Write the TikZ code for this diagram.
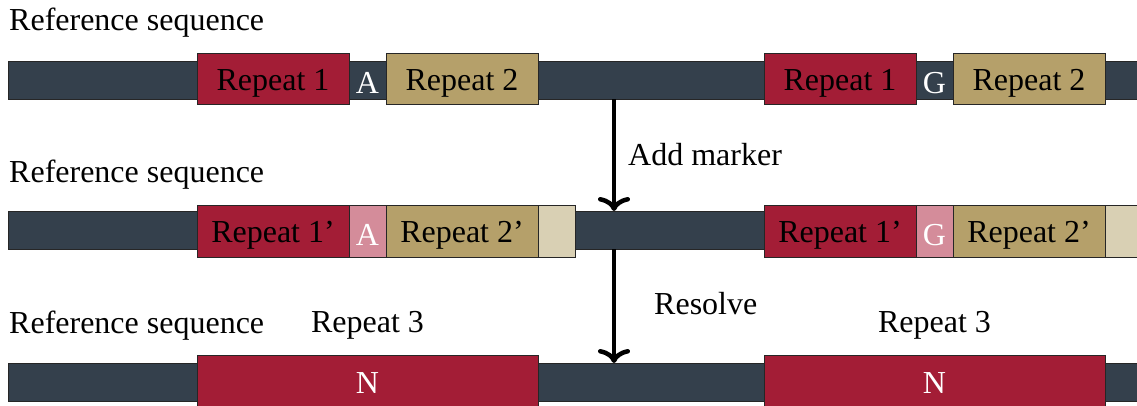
\documentclass[tikz,border=0pt]{standalone}
\usepackage{fontspec}
\setmainfont{Liberation Serif}
\usetikzlibrary{arrows.meta}
\definecolor{bardark}{RGB}{52,64,76}
\definecolor{repred}{RGB}{163,29,54}
\definecolor{reptan}{RGB}{181,160,106}
\definecolor{reppink}{RGB}{212,140,154}
\definecolor{repbeige}{RGB}{217,208,180}
\tikzset{
  bigfont/.style={font=\fontsize{32}{38}\selectfont},
  barshape/.style={fill=bardark,draw=black!85,line width=1pt},
  repbox/.style={bigfont,draw=black!85,line width=1pt,inner sep=0pt,minimum height=51pt,text=black,text height=25pt,text depth=2pt},
  redbox/.style={repbox,fill=repred},
  tanbox/.style={repbox,fill=reptan},
  pinkbox/.style={repbox,fill=reppink,text=white,text height=28pt,text depth=0pt},
  beigebox/.style={repbox,fill=repbeige},
  nbox/.style={repbox,fill=repred,text=white,text height=21pt,text depth=4pt},
  baselbl/.style={bigfont,text=white,inner sep=0pt},
  lbl/.style={bigfont,inner sep=0pt,anchor=west},
  flow/.style={line width=4.5pt,-{To[length=14pt,width=32pt]}}
}
\begin{document}
\begin{tikzpicture}[x=1pt,y=-1pt]
\useasboundingbox (0,0) rectangle (1137,405);
\clip (0,0) rectangle (1137,405);
% row 1
\draw[barshape] (8,61) rectangle (1150,99);
\node[redbox,minimum width=152pt] (r1a) at (273,78.5) {Repeat 1};
\node[baselbl] (ba) at (367.5,83) {A};
\node[tanbox,minimum width=152pt] (r2a) at (462,78.5) {Repeat 2};
\node[redbox,minimum width=152pt] (r1b) at (840,78.5) {Repeat 1};
\node[baselbl] (bg) at (934.5,83) {G};
\node[tanbox,minimum width=152pt] (r2b) at (1029,78.5) {Repeat 2};
\node[lbl] (ref1) at (9,22.5) {Reference sequence};
% row 2
\draw[barshape] (8,211) rectangle (1150,249);
\node[redbox,minimum width=152pt,minimum height=52pt] (m1a) at (273,231) {Repeat 1’};
\node[pinkbox,minimum width=37pt,minimum height=52pt] (pa) at (367.5,231) {A};
\node[tanbox,minimum width=152pt,minimum height=52pt] (m2a) at (462,231) {Repeat 2’};
\node[beigebox,minimum width=37pt,minimum height=52pt] (ea) at (556.5,231) {};
\node[redbox,minimum width=152pt,minimum height=52pt] (m1b) at (840,231) {Repeat 1’};
\node[pinkbox,minimum width=37pt,minimum height=52pt] (pg) at (934.5,231) {G};
\node[tanbox,minimum width=152pt,minimum height=52pt] (m2b) at (1029,231) {Repeat 2’};
\node[beigebox,minimum width=40pt,minimum height=52pt] (eb) at (1125,231) {};
\node[lbl] (ref2) at (9,174.5) {Reference sequence};
% row 3
\draw[barshape] (8,363) rectangle (1150,401);
\node[nbox,minimum width=341pt,minimum height=60pt] (n1) at (367.5,385) {N};
\node[nbox,minimum width=341pt,minimum height=60pt] (n2) at (934.5,385) {N};
\node[lbl] (ref3) at (9,325.5) {Reference sequence};
\node[bigfont,inner sep=0pt] (rep3a) at (367.5,325.5) {Repeat 3};
\node[bigfont,inner sep=0pt] (rep3b) at (934.5,325.5) {Repeat 3};
% arrows
\coordinate (a1s) at (614,99);
\coordinate (a1e) at (614,211);
\coordinate (a2s) at (614,249);
\coordinate (a2e) at (614,363);
\draw[flow] (a1s) -- (a1e);
\draw[flow] (a2s) -- (a2e);
\node[lbl] (addm) at (628,155) {Add marker};
\node[lbl] (resv) at (654,304) {Resolve};
\end{tikzpicture}
\end{document}
